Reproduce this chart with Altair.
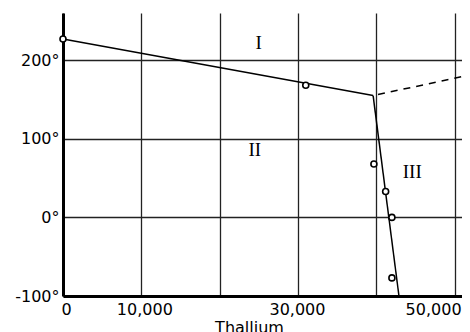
import altair as alt
import pandas as pd

# Data
obs_x = [0, 31000, 39700, 41200, 42000, 42000]
obs_y = [227, 168, 68, 33, 0, -77]

line1_x = [0, 39600]          # boundary I / II
line1_y = [227, 155]
line2_x = [39600, 42900]      # boundary II / III
line2_y = [155, -100]
dash_x = [39600, 50950]       # extrapolated boundary I / III
dash_y = [155, 179]

region_labels = ["I", "II", "III"]
region_x = [25000, 24500, 44600]
region_y = [222, 86, 58]

x_ticks = [0, 10000, 20000, 30000, 40000, 50000]
y_ticks = [-100, 0, 100, 200]

XDOM = [0, 50950]
YDOM = [-100, 260]

xs = alt.Scale(domain=XDOM, nice=False, zero=False)
ys = alt.Scale(domain=YDOM, nice=False, zero=False)

x_axis = alt.Axis(
    values=x_ticks,
    labelExpr="datum.value == 20000 || datum.value == 40000 ? '' : format(datum.value, ',')",
    labelFlush=False,
    labelOverlap=False,
    labelAlign={"expr": "datum.value == 50000 ? 'right' : 'center'"},
    labelOffset={"expr": "datum.value == 50000 ? 6.5 : datum.value == 30000 ? -1 : 3"},
    title="Thallium",
    titleX=186,
    titleAnchor="middle",
    titleAlign="center",
)
y_axis = alt.Axis(values=y_ticks, labelExpr="datum.value + '°'", title=None,
                  labelOverlap=False, labelFlush=False)

obs = pd.DataFrame({"x": obs_x, "y": obs_y})
l1 = pd.DataFrame({"x": line1_x, "y": line1_y})
l2 = pd.DataFrame({"x": line2_x, "y": line2_y})
ld = pd.DataFrame({"x": dash_x, "y": dash_y})
lab = pd.DataFrame({"t": region_labels, "x": region_x, "y": region_y})

c1 = alt.Chart(l1).mark_line(color="black", strokeWidth=1.5).encode(
    x=alt.X("x:Q", scale=xs, axis=x_axis),
    y=alt.Y("y:Q", scale=ys, axis=y_axis),
)
c2 = alt.Chart(l2).mark_line(color="black", strokeWidth=1.5).encode(
    x=alt.X("x:Q", scale=xs), y=alt.Y("y:Q", scale=ys)
)
cd = alt.Chart(ld).mark_line(color="black", strokeWidth=1.5, strokeDash=[7, 6],
                             strokeDashOffset=-5).encode(
    x=alt.X("x:Q", scale=xs), y=alt.Y("y:Q", scale=ys)
)
pts = alt.Chart(obs).mark_point(
    shape="circle", filled=False, fill="white", fillOpacity=1, color="black",
    strokeWidth=1.6, size=36, opacity=1
).encode(x=alt.X("x:Q", scale=xs), y=alt.Y("y:Q", scale=ys))
txt = alt.Chart(lab).mark_text(
    font="Liberation Serif", fontSize=19, color="black"
).encode(x=alt.X("x:Q", scale=xs), y=alt.Y("y:Q", scale=ys), text="t:N")

chart = (
    alt.layer(c1, c2, cd, pts, txt)
    .properties(
        width=399,
        height=283,
        autosize=alt.AutoSizeParams(type="none"),
        padding={"left": 55, "top": 5, "right": 0, "bottom": 40},
    )
    .configure_view(stroke=None)
    .configure_axis(
        grid=True,
        gridColor="#222222",
        gridWidth=1.3,
        gridOpacity=1,
        domainColor="black",
        domainWidth=3,
        ticks=False,
        labelFont="DejaVu Sans",
        labelFontSize=16,
        labelColor="black",
        titleFont="DejaVu Sans",
        titleFontSize=16,
        titleFontWeight="normal",
        titleColor="black",
    )
    .configure_axisX(labelPadding=5, titlePadding=2)
    .configure_axisY(labelPadding=4)
)

chart.save("out.html", embed_options={"renderer": "svg", "actions": False})
